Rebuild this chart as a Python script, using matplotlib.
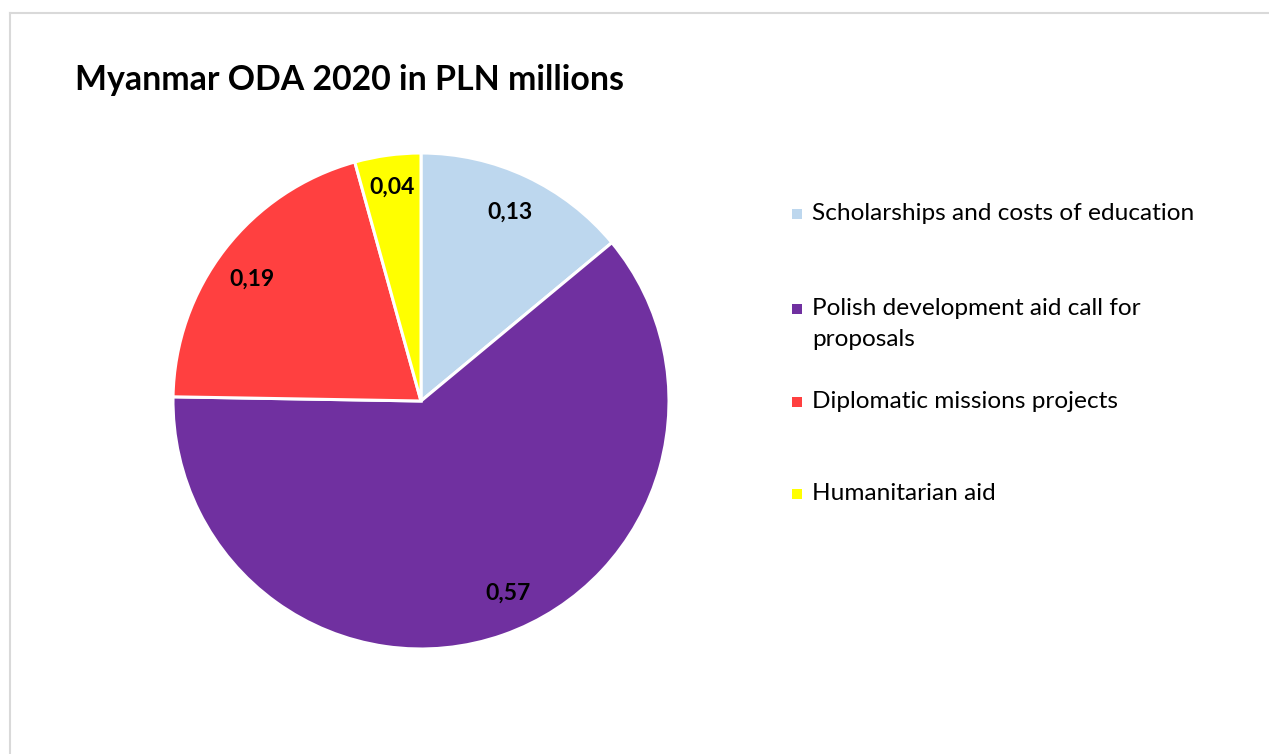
import matplotlib.pyplot as plt
from matplotlib.lines import Line2D
from matplotlib.patches import Rectangle
import numpy as np

categories = ['Scholarships and costs of education',
              'Polish development aid call for\nproposals',
              'Diplomatic missions projects',
              'Humanitarian aid']
values = [0.13, 0.57, 0.19, 0.04]
value_labels = ['0,13', '0,57', '0,19', '0,04']
colors = ['#BDD7EE', '#7030A0', '#FF4040', '#FFFF00']
title = 'Myanmar ODA 2020 in PLN millions'

plt.rcParams['font.family'] = ['Lato', 'DejaVu Sans']

W, H = 1269, 754
fig = plt.figure(figsize=(W / 100, H / 100), dpi=100)
fig.patch.set_facecolor('white')

# light grey frame (only top and left edges are visible)
border = '#d9d9d9'
fig.add_artist(Line2D([10 / W, 1], [1 - 13 / H, 1 - 13 / H], color=border, lw=1.5))
fig.add_artist(Line2D([10 / W, 10 / W], [0, 1 - 13 / H], color=border, lw=1.5))

fig.text(75 / W, 1 - 80 / H, title, fontsize=24.4, fontweight='bold', va='center', ha='left')

# pie: centre (421, 401), radius 248 px
cx, cy, r = 421, 401, 248
box = 260
ax = fig.add_axes([(cx - box) / W, (H - cy - box) / H, 2 * box / W, 2 * box / H])
wedges, _ = ax.pie(values, colors=colors, startangle=90, counterclock=False,
                   radius=1, wedgeprops=dict(edgecolor='white', linewidth=2.2))
lim = box / r
ax.set_xlim(-lim, lim)
ax.set_ylim(-lim, lim)
ax.axis('off')

# value labels near the outer part of each slice
dists = [0.84, 0.85, 0.84, 0.87]
shift = [0, 5, 2, 0]  # small angle nudges, degrees
for w, lab, d, s in zip(wedges, value_labels, dists, shift):
    ang = np.deg2rad((w.theta1 + w.theta2) / 2 + s)
    ax.text(d * np.cos(ang), d * np.sin(ang), lab, ha='center', va='center',
            fontsize=16.5, fontweight='bold', color='black')

# legend
leg_y = [214, 309, 402, 494]
for cat, col, y in zip(categories, colors, leg_y):
    fig.add_artist(Rectangle((792 / W, 1 - (y + 5) / H), 10 / W, 10 / H,
                             facecolor=col, edgecolor='none'))
    for k, ln in enumerate(cat.split('\n')):
        fig.text(812 / W, 1 - (y + 31 * k) / H, ln, fontsize=17.6, va='center', ha='left')

fig.savefig('out.png', dpi=100, facecolor='white')
